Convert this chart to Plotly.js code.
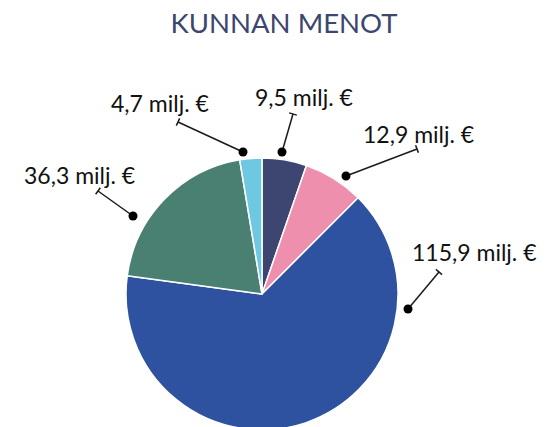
<!DOCTYPE html>
<html>
<head>
<meta charset="utf-8">
<script src="https://cdn.plot.ly/plotly-3.0.1.min.js"></script>
<style>
html,body{margin:0;padding:0;overflow:hidden;background:#fff;}
#chart{width:552px;height:440px;}
</style>
</head>
<body>
<div id="chart"></div>
<script>
// Data
const categories = ["Menot A", "Menot B", "Menot C", "Menot D", "Menot E"];
const values = [9.5, 12.9, 115.9, 36.3, 4.7];
const labels = ["9,5 milj. €", "12,9 milj. €", "115,9 milj. €", "36,3 milj. €", "4,7 milj. €"];
const colors = ["#3d4670", "#ee8fae", "#2e52a0", "#4a8072", "#6fc8e1"];

// Label layout (pixels): text centre, leader dot, leader tail
const textPos = [[303.5, 97], [418, 134], [474.5, 252], [79, 175], [159.5, 103]];
const dotPos  = [[282, 152], [346, 176], [408, 309], [133, 216], [243, 152]];
const tailPos = [[293, 114], [417, 149], [439, 272], [98, 191], [178, 122]];

const W = 552, H = 440;
const px = x => x / W;
const py = y => 1 - y / H;

const shapes = [];
const annotations = [];
labels.forEach((t, i) => {
  const [dx, dy] = dotPos[i], [tx, ty] = tailPos[i];
  shapes.push({type: "line", xref: "paper", yref: "paper",
    x0: px(dx), y0: py(dy), x1: px(tx), y1: py(ty),
    line: {color: "#1a1a1a", width: 1.5}});
  const len = Math.hypot(tx - dx, ty - dy);
  const nx = -(ty - dy) / len * 4, ny = (tx - dx) / len * 4;
  shapes.push({type: "line", xref: "paper", yref: "paper",
    x0: px(tx + nx), y0: py(ty + ny), x1: px(tx - nx), y1: py(ty - ny),
    line: {color: "#1a1a1a", width: 1.5}});
  const r = 4.5;
  shapes.push({type: "circle", xref: "paper", yref: "paper",
    x0: px(dx - r), x1: px(dx + r), y0: py(dy + r), y1: py(dy - r),
    fillcolor: "#000", line: {width: 0}});
  annotations.push({xref: "paper", yref: "paper", x: px(textPos[i][0]), y: py(textPos[i][1]),
    xanchor: "center", yanchor: "middle", showarrow: false, text: t,
    font: {family: "Lato, sans-serif", size: 23, color: "#111"}});
});

const cx = 262, cy = 294, R = 136;
const trace = {
  type: "pie",
  labels: categories,
  values: values,
  sort: false,
  direction: "clockwise",
  rotation: 0,
  textinfo: "none",
  hoverinfo: "none",
  marker: {colors: colors, line: {color: "#ffffff", width: 1.5}},
  domain: {x: [px(cx - R), px(cx + R)], y: [py(cy + R), py(cy - R)]},
  showlegend: false
};

const layout = {
  width: W, height: H,
  margin: {l: 0, r: 0, t: 0, b: 0},
  paper_bgcolor: "#fff",
  title: {text: "KUNNAN MENOT", x: px(284), xanchor: "center", y: py(23), yanchor: "middle",
    font: {family: "Lato, sans-serif", size: 27.5, weight: 400, color: "#3d4670"}},
  shapes: shapes,
  annotations: annotations,
  showlegend: false
};

Plotly.newPlot("chart", [trace], layout, {staticPlot: true, displayModeBar: false});
</script>
</body>
</html>
